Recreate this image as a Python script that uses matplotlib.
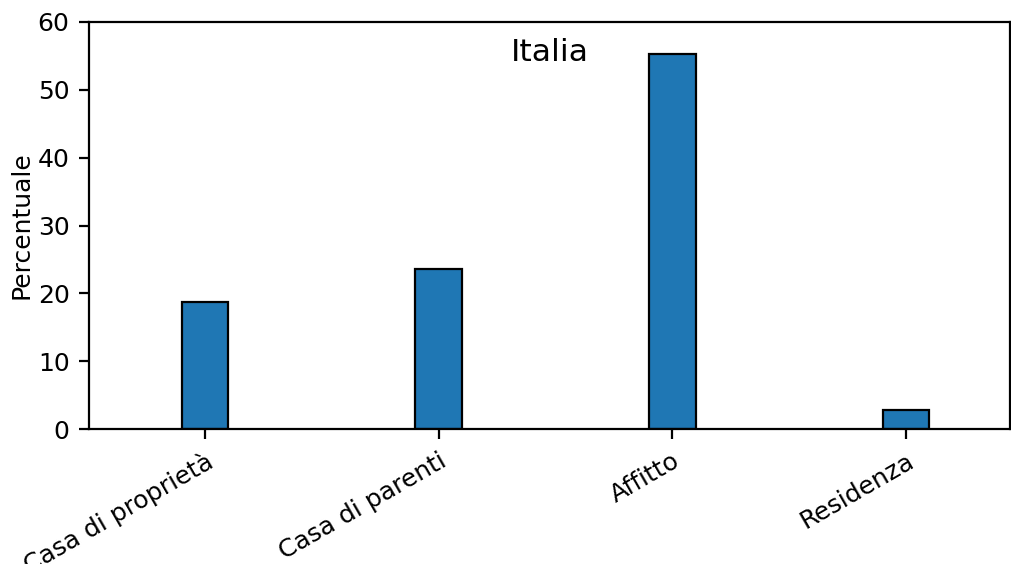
import matplotlib
matplotlib.use("Agg")
import matplotlib.pyplot as plt
import numpy as np

# Living situation shares, Italy (percent)
categories = ["Casa di proprietà", "Casa di parenti", "Affitto", "Residenza"]
percentages = [18.7, 23.6, 55.3, 2.9]

plt.rcParams["font.size"] = 9

fig = plt.figure(figsize=(5.06, 2.82), dpi=200)
ax = fig.add_axes([0.088, 0.239, 0.91, 0.722])

x = np.arange(len(categories))
ax.bar(x, percentages, width=0.2, color="#1f77b4", edgecolor="black", linewidth=0.8)

ax.set_xticks(x)
ax.set_xticklabels(categories, rotation=30, ha="right", rotation_mode="anchor")
ax.set_xlim(-0.496, 3.445)
ax.set_ylim(0, 60)
ax.set_ylabel("Percentuale", labelpad=1.5)
ax.text(0.5, 0.925, "Italia", transform=ax.transAxes, ha="center", va="center", fontsize=11.3)

fig.savefig("out.png", dpi=200)
